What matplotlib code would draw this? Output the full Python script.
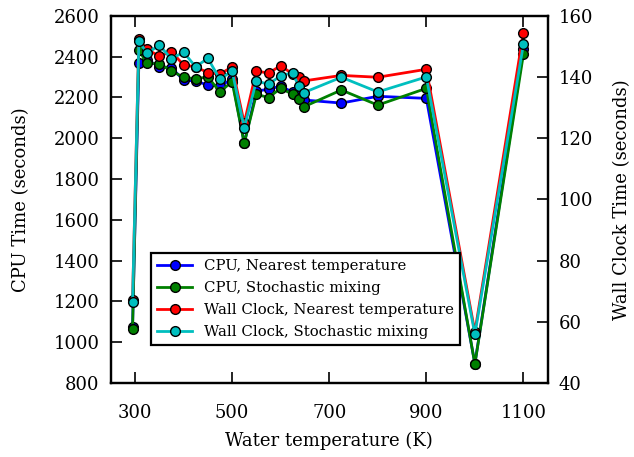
import numpy as np
import matplotlib
matplotlib.use("Agg")
import matplotlib.pyplot as plt
from matplotlib.legend_handler import HandlerLine2D

plt.rcParams['font.family'] = ['DejaVu Serif']
plt.rcParams['xtick.direction'] = 'in'
plt.rcParams['ytick.direction'] = 'in'
plt.rcParams['axes.linewidth'] = 1.6

# Datos
temps = [295, 308, 325, 350, 375, 400, 425, 450, 475, 500, 525, 550, 575,
         600, 625, 637, 648, 725, 800, 900, 1000, 1100]

# CPU time (s), eje izquierdo
cpu_nearest = [1075, 2370, 2385, 2350, 2345, 2285, 2280, 2260, 2255, 2290, 1975,
               2230, 2240, 2255, 2225, 2215, 2187, 2172, 2205, 2195, 895, 2435]
cpu_stoch = [1063, 2430, 2367, 2365, 2330, 2298, 2291, 2300, 2227, 2277, 1975,
             2215, 2199, 2244, 2215, 2190, 2154, 2236, 2162, 2244, 893, 2412]

# Wall clock time (s), eje derecho
wall_nearest = [67.0, 152.3, 149.0, 146.8, 148.3, 143.9, 143.3, 141.4, 140.9, 143.3,
                124.9, 142.0, 141.2, 143.7, 140.9, 140.0, 138.7, 140.5, 139.9, 142.5,
                56.7, 154.5]
wall_stoch = [66.5, 151.7, 147.7, 150.4, 145.9, 148.1, 143.3, 146.1, 139.2, 142.0,
              123.4, 138.7, 137.6, 140.4, 141.4, 137.0, 134.9, 139.9, 135.1, 140.0,
              55.9, 150.7]


class MarcadorIzq(HandlerLine2D):
    # marcador al inicio de la linea en la leyenda
    def get_xdata(self, legend, xdescent, ydescent, width, height, fontsize):
        xdata, _ = super().get_xdata(legend, xdescent, ydescent, width, height, fontsize)
        return xdata, [-xdescent + 0.2 * width]


fig = plt.figure(figsize=(6.34, 4.57), dpi=100)
ax1 = fig.add_axes([0.1746, 0.1619, 0.6893, 0.8037])
ax2 = ax1.twinx()

mk = dict(marker='o', markersize=7, markeredgecolor='black', markeredgewidth=1.0, linewidth=2)
l1, = ax1.plot(temps, cpu_nearest, color='b', label='CPU, Nearest temperature', **mk)
l2, = ax1.plot(temps, cpu_stoch, color='g', label='CPU, Stochastic mixing', **mk)
l3, = ax2.plot(temps, wall_nearest, color='r', label='Wall Clock, Nearest temperature', **mk)
l4, = ax2.plot(temps, wall_stoch, color='c', label='Wall Clock, Stochastic mixing', **mk)

ax1.set_xlim(250, 1150)
ax1.set_ylim(800, 2600)
ax2.set_ylim(40, 160)
ax1.set_xticks([300, 500, 700, 900, 1100])
ax1.set_yticks(np.arange(800, 2601, 200))
ax2.set_yticks(np.arange(40, 161, 20))

ax1.tick_params(axis='x', top=True, length=8, width=1.2, labelsize=13, pad=15)
ax1.tick_params(axis='y', right=False, length=8, width=1.2, labelsize=13, pad=8)
ax2.tick_params(axis='y', length=8, width=1.2, labelsize=13, pad=8)

ax1.set_xlabel("Water temperature (K)", fontsize=13, labelpad=7)
ax1.set_ylabel("CPU Time (seconds)", fontsize=13, labelpad=17)
ax2.set_ylabel("Wall Clock Time (seconds)", fontsize=13, labelpad=14)

leg = ax2.legend(handles=[l1, l2, l3, l4], loc='lower center',
                 bbox_to_anchor=(0.446, 0.103), borderaxespad=0,
                 fontsize=10.7, numpoints=1, labelspacing=0.55,
                 fancybox=False, framealpha=1, edgecolor='black', handlelength=2.4,
                 handler_map={l: MarcadorIzq() for l in [l1, l2, l3, l4]})
leg.get_frame().set_linewidth(1.6)

fig.savefig("out.png", dpi=100)
